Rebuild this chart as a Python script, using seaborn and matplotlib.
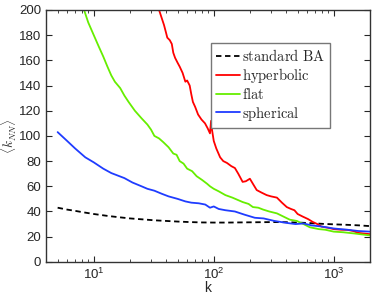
import pandas as pd
import numpy as np
import matplotlib
matplotlib.use("Agg")
import matplotlib.pyplot as plt
import seaborn as sns

sns.set_style("ticks")
plt.rcParams['font.family'] = ['Liberation Sans', 'DejaVu Sans']
plt.rcParams['mathtext.fontset'] = 'cm'

# ---- data ----
k_ba = [5, 6, 7, 8, 10, 13, 16, 20, 25, 32, 40, 50, 63, 80, 100, 130, 160, 200,
        250, 320, 400, 500, 630, 800, 1000, 1300, 1600, 2000]
y_ba = [43, 41.5, 40.5, 39.5, 38, 36.5, 35.5, 34.5, 33.8, 33, 32.5, 32, 31.6, 31.3,
        31.2, 31.2, 31.3, 31.4, 31.5, 31.6, 31.5, 31.2, 30.8, 30.2, 29.8, 29.4, 29.0, 28.4]

k_hyp = [35, 37, 38.5, 40, 41, 43, 44.7, 46, 47.6, 50, 52, 55, 58, 60, 63, 65, 67, 70,
         74, 79, 84.5, 89, 93, 95, 97, 100, 105, 113, 120, 129, 140, 150, 160, 174, 185,
         200, 215, 228, 250, 276, 300, 336, 370, 406, 440, 470, 500, 550, 610, 668, 730,
         790, 900, 1000, 1150, 1300, 1450, 1600, 1800, 2000]
y_hyp = [200, 193, 188, 182, 178, 176, 173, 166, 162, 158, 155, 150, 143, 144, 140, 133,
         127, 123, 117, 113, 110, 106, 102, 112, 104, 96, 90, 83, 80, 78.5, 76, 74.5, 70,
         63.5, 64, 66, 61, 57, 55, 53, 52, 51, 47, 43.5, 42, 41, 38, 36, 34, 31.7, 30,
         28, 27, 26, 25.5, 25.4, 24.5, 23, 22.5, 22]

k_flat = [8.3, 9, 10, 11, 12, 13, 14, 15, 16.6, 18, 19.5, 22, 25, 28, 30, 32, 35, 38,
          42, 46, 49, 52, 56, 60, 66, 72, 80, 88, 93, 100, 110, 125, 143, 160, 174, 195,
          212, 235, 258, 290, 336, 380, 430, 492, 560, 630, 750, 850, 1000, 1200, 1500, 2000]
y_flat = [200, 190, 180, 171, 163, 155, 148, 143, 138, 132, 127, 120, 114, 109, 105, 100,
          98, 95, 91, 86, 85, 80, 78, 74, 72, 68, 65, 62, 60, 58, 56, 53, 51, 49, 47.5,
          46, 43.5, 43, 41.5, 40, 38.5, 36, 33.5, 32.5, 30, 27.5, 26, 25.5, 24, 23.5, 22.5, 21]

k_sph = [5, 6, 7, 8.5, 10, 12, 14, 18, 21, 25, 28, 32, 37, 42, 50, 58, 65, 75, 85, 93,
         100, 110, 125, 150, 180, 220, 260, 320, 400, 480, 560, 650, 800, 1000, 1300,
         1600, 2000]
y_sph = [103, 96, 90, 83, 79, 74, 70.5, 66.5, 63, 60, 58, 56.5, 54, 52, 50, 48, 47,
         46.5, 45.5, 43, 44, 42, 41, 40, 37.5, 35, 34.5, 32.5, 31, 30, 30.5, 29, 28,
         26.5, 25.5, 24.5, 24]

labels = [r'$\mathrm{standard\ BA}$', r'$\mathrm{hyperbolic}$',
          r'$\mathrm{flat}$', r'$\mathrm{spherical}$']
colors = ['black', '#ff0000', '#66ee00', '#1f3cff']

df = pd.concat([
    pd.DataFrame({'k': k_ba, 'knn': y_ba, 'model': labels[0]}),
    pd.DataFrame({'k': k_hyp, 'knn': y_hyp, 'model': labels[1]}),
    pd.DataFrame({'k': k_flat, 'knn': y_flat, 'model': labels[2]}),
    pd.DataFrame({'k': k_sph, 'knn': y_sph, 'model': labels[3]}),
])

fig = plt.figure(figsize=(3.74, 3.01), dpi=100)
ax = fig.add_axes([0.123, 0.130, 0.866, 0.837])

sns.lineplot(data=df, x='k', y='knn', hue='model', style='model',
             palette=dict(zip(labels, colors)),
             dashes={labels[0]: (3, 2), labels[1]: '', labels[2]: '', labels[3]: ''},
             linewidth=1.3, ax=ax, legend=True)

ax.set_xscale('log')
ax.set_xlim(4, 2000)
ax.set_ylim(0, 200)
ax.set_yticks(range(0, 201, 20))
ax.set_xlabel('k', fontsize=10, labelpad=-1)
ax.set_ylabel(r'$\langle k_{NN}\rangle$', fontsize=9.5, labelpad=0)
ax.tick_params(which='both', direction='in', top=True, right=True, labelsize=9.5)
ax.tick_params(which='major', length=4)
ax.tick_params(which='minor', length=2)
for s in ax.spines.values():
    s.set_color('#333333')
    s.set_linewidth(1.0)

leg = ax.legend(loc='upper right', bbox_to_anchor=(0.877, 0.869), fontsize=10.5,
                handlelength=1.6, handletextpad=0.15, labelspacing=0.15,
                borderpad=0.35, borderaxespad=0, fancybox=False, framealpha=1)
leg.get_frame().set_edgecolor('#777777')
leg.get_frame().set_linewidth(1.0)

fig.savefig('out.png', dpi=100)
